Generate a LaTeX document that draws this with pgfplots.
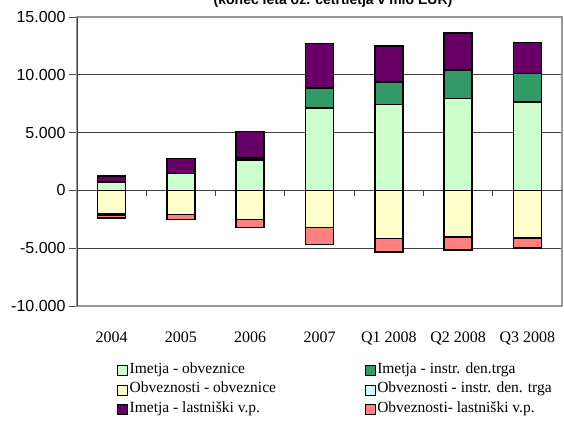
\documentclass[border=0pt]{standalone}
\usepackage{pgfplots}
\pgfplotsset{compat=1.18}
\usepackage{fontspec}
\setmainfont{Liberation Serif}
\newfontfamily\arial{Liberation Sans}
\definecolor{imobv}{HTML}{CCFFCC}
\definecolor{iminstr}{HTML}{339966}
\definecolor{imlast}{HTML}{660066}
\definecolor{obobv}{HTML}{FFFFCC}
\definecolor{obinstr}{HTML}{CCFFFF}
\definecolor{oblast}{HTML}{FF8080}
\pgfplotsset{
  common/.style={
    at={(0pt,0pt)}, anchor=south west,
    scale only axis, width=485pt, height=289pt,
    xmin=-0.5, xmax=6.5, ymin=-10000, ymax=15000,
    ybar stacked, bar width=28pt,
  },
  barsty/.style={fill=#1, draw=black, line width=1.5pt},
}
\begin{document}
\begin{tikzpicture}
\useasboundingbox (-77pt,-115pt) rectangle (487pt,306pt);
\begin{axis}[common,
  ytick={-10000,-5000,0,5000,10000,15000},
  scaled y ticks=false,
  xtick={0,...,6},
  xticklabels={2004,2005,2006,2007,Q1 2008,Q2 2008,Q3 2008},
  x tick style={draw=none},
  xticklabel style={font=\fontsize{16}{18}\selectfont, yshift=-14pt},
  yticklabel style={font=\arial\fontsize{16}{18}\selectfont,
    /pgf/number format/1000 sep={.}, /pgf/number format/assume math mode=true},
  ytick pos=left, tick align=outside, major tick length=8pt,
  y tick style={black!70, line width=0.9pt},
  ymajorgrids, grid style={black!75, line width=0.9pt},
  axis line style={draw=black!40, line width=1.8pt},
]
\draw[black!75, line width=0.9pt] (axis cs:-0.5,0) -- (axis cs:6.5,0);
\draw[black!75, line width=0.9pt] (axis cs:0.5,0) -- ++(0pt,-6pt);
\draw[black!75, line width=0.9pt] (axis cs:1.5,0) -- ++(0pt,-6pt);
\draw[black!75, line width=0.9pt] (axis cs:2.5,0) -- ++(0pt,-6pt);
\draw[black!75, line width=0.9pt] (axis cs:3.5,0) -- ++(0pt,-6pt);
\draw[black!75, line width=0.9pt] (axis cs:4.5,0) -- ++(0pt,-6pt);
\draw[black!75, line width=0.9pt] (axis cs:5.5,0) -- ++(0pt,-6pt);
\draw[black!75, line width=0.9pt] (axis cs:6.5,0) -- ++(0pt,-6pt);
% Imetja - obveznice
\addplot[barsty=imobv] coordinates {(0,700) (1,1450) (2,2650) (3,7130) (4,7450) (5,7950) (6,7650)};
% Imetja - instr. den. trga
\addplot[barsty=iminstr] coordinates {(0,60) (1,30) (2,150) (3,1710) (4,1910) (5,2450) (6,2460)};
% Imetja - lastniski v.p.
\addplot[barsty=imlast] coordinates {(0,480) (1,1270) (2,2300) (3,3870) (4,3140) (5,3200) (6,2690)};
\draw[black!75, line width=2pt] (rel axis cs:0,0) -- (rel axis cs:0,1);
\end{axis}
\begin{axis}[common, hide axis,
  legend columns=2,
  legend style={draw=none, fill=none, inner sep=0pt, outer sep=0pt,
    at={(0.0825,-0.19)}, anchor=north west,
    font=\fontsize{15.5}{18}\selectfont,
    nodes={inner xsep=1.5pt, inner ysep=0pt, text height=12.5pt, text depth=7pt},
    cells={anchor=west},
    /tikz/every even column/.append style={column sep=87pt},
    /tikz/column 1/.style={column sep=0pt},
  },
  legend image code/.code={\draw[#1, draw=black, line width=1.2pt] (0pt,-5pt) rectangle (10pt,5pt);},
]
% Obveznosti - obveznice
\addplot[barsty=obobv, forget plot] coordinates {(0,-2050) (1,-2080) (2,-2500) (3,-3230) (4,-4160) (5,-4040) (6,-4100)};
% Obveznosti - instr. den. trga
\addplot[barsty=obinstr, forget plot] coordinates {(0,-80) (1,0) (2,0) (3,0) (4,0) (5,0) (6,0)};
% Obveznosti - lastniski v.p.
\addplot[barsty=oblast, forget plot] coordinates {(0,-250) (1,-430) (2,-730) (3,-1450) (4,-1150) (5,-1130) (6,-900)};
\addlegendimage{fill=imobv}\addlegendentry{Imetja - obveznice}
\addlegendimage{fill=iminstr}\addlegendentry{Imetja - instr. den.trga}
\addlegendimage{fill=obobv}\addlegendentry{Obveznosti - obveznice}
\addlegendimage{fill=obinstr}\addlegendentry{Obveznosti - instr. den. trga}
\addlegendimage{fill=imlast}\addlegendentry{Imetja - lastniški v.p.}
\addlegendimage{fill=oblast}\addlegendentry{Obveznosti- lastniški v.p.}
\end{axis}
\node[font=\arial\bfseries\fontsize{14}{16}\selectfont, anchor=base] at (256pt,301pt) {(konec leta oz. četrtletja v mio EUR)};
\end{tikzpicture}
\end{document}
